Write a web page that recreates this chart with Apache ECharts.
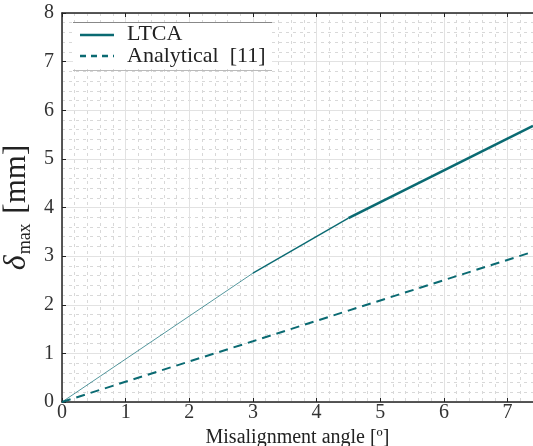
<!DOCTYPE html>
<html><head><meta charset="utf-8">
<script src="https://cdn.jsdelivr.net/npm/echarts@6/dist/echarts.min.js"></script>
<style>html,body{margin:0;padding:0;background:#fff}#c{width:533px;height:446px}</style>
</head><body><div id="c"></div>
<script>
var xTicks = [0,1,2,3,4,5,6,7];
var yTicks = [0,1,2,3,4,5,6,7,8];
var ltcaX = [0, 3, 4.5, 7.4];
var ltcaY = [0, 2.65, 3.78, 5.68];
var anaX = [0, 3, 4.5, 7.4];
var anaY = [0, 1.25, 1.88, 3.09];
var seriesNames = ['LTCA', 'Analytical  [11]'];

var teal = '#0a6a72';
var font = '"Liberation Serif", "DejaVu Serif", serif';
var chart = echarts.init(document.getElementById('c'));

function pts(xs, ys, i0, i1){ var r=[]; for(var i=i0;i<=i1;i++) r.push([xs[i], ys[i]]); return r; }
var widths = [0.7, 1.4, 2.6];
var ltcaSeries = [];
for (var k=0;k<ltcaX.length-1;k++){
  ltcaSeries.push({type:'line', name: seriesNames[0], data: pts(ltcaX, ltcaY, k, k+1), showSymbol:false, symbol:'none',
    lineStyle:{color:teal, width:widths[k]}, itemStyle:{color:teal}, z:3});
}
var option = {
  backgroundColor:'#fff',
  animation:false,
  grid:{left:62, right:0, top:13, bottom:44, containLabel:false, outerBoundsMode:'none'},
  graphic:[
    {type:'rect', shape:{x:73,y:23,width:199,height:46}, style:{fill:'#fff'}, z:99},
    {type:'line', shape:{x1:73,y1:22.5,x2:272,y2:22.5}, style:{stroke:'#888', lineWidth:1}, z:100},
    {type:'line', shape:{x1:73,y1:70.5,x2:272,y2:70.5}, style:{stroke:'#bbb', lineWidth:1}, z:100},
    {type:'line', shape:{x1:80,y1:35,x2:114,y2:35}, style:{stroke:teal, lineWidth:2.4}, z:101},
    {type:'line', shape:{x1:80,y1:56,x2:114,y2:56}, style:{stroke:teal, lineWidth:2.4, lineDash:[6,5]}, z:101},
    {type:'text', left:127, top:23, style:{text:seriesNames[0], font:'22px '+font, fill:'#222'}, z:101},
    {type:'text', left:127, top:45, style:{text:seriesNames[1], font:'22px '+font, fill:'#222'}, z:101}
  ],
  xAxis:[{
    type:'value', min:0, max:7.4, interval:1,
    name:'Misalignment angle [º]', nameLocation:'middle', nameGap:24,
    nameTextStyle:{fontFamily:font, fontSize:20, color:'#222'},
    axisLine:{onZero:false, lineStyle:{color:'#222', width:1.5}},
    axisTick:{inside:true, length:4, lineStyle:{color:'#222'}},
    axisLabel:{fontFamily:font, fontSize:20, color:'#333', margin:1, showMaxLabel:false},
    splitLine:{show:true, lineStyle:{color:'#e2e2e2', width:1}},
    minorTick:{show:false, splitNumber:5},
    minorSplitLine:{show:true, lineStyle:{color:'#d8d8d8', width:1, type:[3,4]}}
  },{
    type:'value', position:'top', min:0, max:7.4, interval:1,
    axisLine:{show:true, onZero:false, lineStyle:{color:'#222', width:1.5}},
    axisTick:{inside:true, length:4, lineStyle:{color:'#222'}},
    axisLabel:{show:false}, splitLine:{show:false}
  }],
  yAxis:{
    type:'value', min:0, max:8, interval:1,
    name:'{d|δ}{s|max}{b| [mm]}', nameLocation:'middle', nameGap:28, nameRotate:90, nameMoveOverlap:false,
    nameTextStyle:{rich:{
      d:{fontFamily:font, fontSize:32, fontStyle:'italic', color:'#222'},
      s:{fontFamily:font, fontSize:18, color:'#222', padding:[16,2,0,1]},
      b:{fontFamily:font, fontSize:31, color:'#222'}}},
    axisLine:{onZero:false, lineStyle:{color:'#222', width:1.5}},
    axisTick:{inside:true, length:4, lineStyle:{color:'#222'}},
    axisLabel:{fontFamily:font, fontSize:20, color:'#333', margin:8},
    splitLine:{show:true, lineStyle:{color:'#e2e2e2', width:1}},
    minorTick:{show:false, splitNumber:5},
    minorSplitLine:{show:true, lineStyle:{color:'#d8d8d8', width:1, type:[3,4]}}
  },
  series: ltcaSeries.concat([{
    type:'line', name: seriesNames[1], data: pts(anaX, anaY, 0, anaX.length-1), showSymbol:false, symbol:'none',
    lineStyle:{color:teal, width:2, type:[9,6]}, itemStyle:{color:teal}, z:3
  }])
};
chart.setOption(option);
</script></body></html>
